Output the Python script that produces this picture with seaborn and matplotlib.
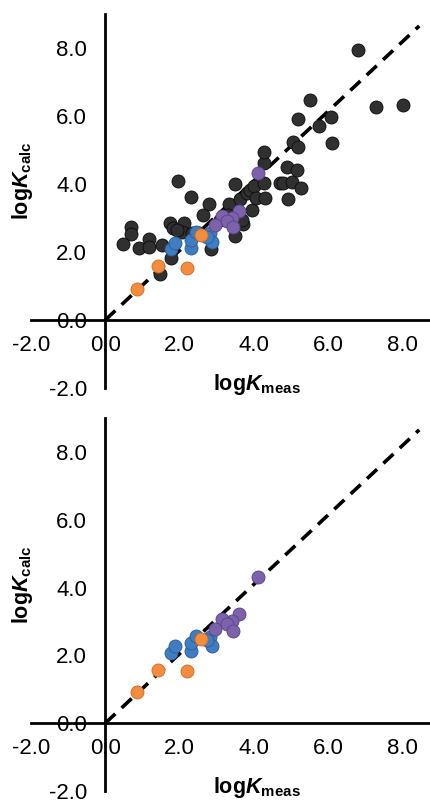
import numpy as np
import pandas as pd
import matplotlib
matplotlib.use('Agg')
import matplotlib.pyplot as plt
import seaborn as sns

black_meas = [1.95, 2.31, 2.78, 2.63, 0.70, 0.70, 0.47, 0.91, 1.17, 1.17,
              1.52, 1.75, 1.82, 2.11, 2.06, 1.93, 2.33, 2.51, 1.77, 1.48,
              2.85, 3.34, 3.49, 3.63, 3.49, 3.70, 3.67, 3.94, 3.81, 3.90,
              4.01, 4.06, 4.28, 4.30, 4.28, 4.28, 4.70, 4.78, 5.02, 5.27,
              4.91, 6.81, 5.51, 7.30, 8.02, 5.20, 6.08, 5.76, 5.06, 5.18,
              6.09, 4.88, 5.17, 3.30, 3.10]
black_calc = [4.09, 3.63, 3.40, 3.09, 2.74, 2.52, 2.25, 2.13, 2.37, 2.16,
              2.21, 2.84, 2.70, 2.86, 2.60, 2.65, 2.55, 2.57, 1.81, 1.35,
              2.08, 3.41, 4.00, 3.55, 2.47, 2.82, 2.94, 3.24, 3.73, 3.82,
              3.94, 3.58, 4.04, 3.58, 4.61, 4.95, 4.02, 4.02, 4.07, 3.87,
              3.56, 7.94, 6.47, 6.27, 6.32, 5.91, 5.98, 5.71, 5.23, 5.10,
              5.22, 4.51, 4.41, 3.10, 2.95]

blue_meas = [1.77, 1.88, 2.32, 2.30, 2.45, 2.82, 2.86, 2.75]
blue_calc = [2.08, 2.27, 2.12, 2.35, 2.58, 2.55, 2.29, 2.45]

purple_meas = [4.10, 3.61, 3.41, 3.14, 3.27, 3.43, 2.94]
purple_calc = [4.32, 3.22, 3.00, 3.07, 2.92, 2.73, 2.78]

orange_meas = [0.85, 1.42, 2.21, 2.59]
orange_calc = [0.91, 1.58, 1.54, 2.49]

diag_x = [0.0, 8.45]
diag_y = [0.0, 8.65]

ticks = [-2, 0, 2, 4, 6, 8]
tick_labels = ['-2.0', '0.0', '2.0', '4.0', '6.0', '8.0']

groups = [
    ('black', black_meas, black_calc, '#303030', '#0a0a0a'),
    ('blue', blue_meas, blue_calc, '#3f7cc0', '#2a5a96'),
    ('purple', purple_meas, purple_calc, '#7b62aa', '#58428a'),
    ('orange', orange_meas, orange_calc, '#f28c3e', '#d2691e'),
]

frames = []
for name, xs, ys, fc, ec in groups:
    frames.append(pd.DataFrame({'meas': xs, 'calc': ys, 'group': name}))
df = pd.concat(frames, ignore_index=True)

sns.set_style('white')
plt.rcParams['font.family'] = ['Liberation Sans', 'DejaVu Sans']
plt.rcParams['text.color'] = 'black'
plt.rcParams['mathtext.fontset'] = 'custom'
plt.rcParams['mathtext.rm'] = 'Liberation Sans'
plt.rcParams['mathtext.bf'] = 'Liberation Sans:bold'
plt.rcParams['mathtext.bfit'] = 'Liberation Sans:bold:italic'

fig = plt.figure(figsize=(4.3, 8.0), dpi=100)
ax_top = fig.add_axes([0.072, 0.515, 0.928, 0.4675])
ax_bot = fig.add_axes([0.072, 0.01125, 0.928, 0.46625])


def draw(ax, show_black):
    ax.plot(diag_x, diag_y, color='black', lw=2.6, ls=(0, (3.8, 2.4)), zorder=1)
    for name, xs, ys, fc, ec in groups:
        if name == 'black' and not show_black:
            continue
        sub = df[df['group'] == name]
        sns.scatterplot(data=sub, x='meas', y='calc', ax=ax, color=fc,
                        edgecolor=ec, linewidth=0.6, s=88, zorder=3,
                        legend=False)
    ax.set_xlim(-2, 8.74)
    ax.set_ylim(-2, 9.0)
    ax.set_xticks(ticks)
    ax.set_xticklabels(tick_labels)
    ax.set_yticks(ticks)
    ax.set_yticklabels(tick_labels)
    for side in ['top', 'right']:
        ax.spines[side].set_visible(False)
    ax.spines['left'].set_position(('data', 0))
    ax.spines['bottom'].set_position(('data', 0))
    for side in ['left', 'bottom']:
        ax.spines[side].set_linewidth(2)
        ax.spines[side].set_color('black')
    ax.tick_params(axis='both', direction='out', length=5, width=2,
                   labelsize=16, colors='black')
    ax.tick_params(axis='y', pad=8)
    ax.tick_params(axis='x', pad=6)
    ax.set_xlabel('')
    ax.set_ylabel('')
    ax.text(4.07, -1.9, r'$\mathbf{log}\mathbfit{K}_{\mathbf{meas}}$',
            ha='center', va='center', fontsize=15.5, color='black',
            clip_on=False)
    ax.text(-2.23, 4.1, r'$\mathbf{log}\mathbfit{K}_{\mathbf{calc}}$',
            ha='center', va='center', rotation=90, fontsize=15.5,
            color='black', clip_on=False)
    ax.patch.set_alpha(0)


draw(ax_top, True)
draw(ax_bot, False)

fig.savefig('out.png', dpi=100)
